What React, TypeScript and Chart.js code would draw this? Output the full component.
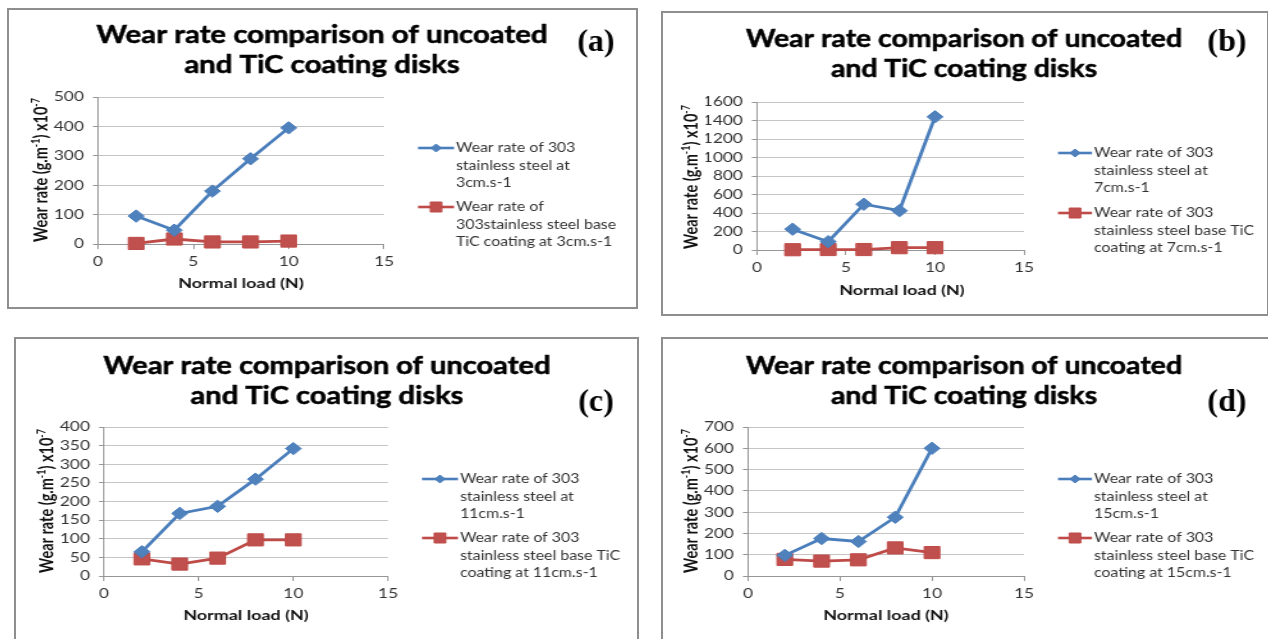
import React, { useEffect, useRef } from "react";
import { Chart, registerables } from "chart.js";

Chart.register(...registerables);

// ---------------- data ----------------
const normalLoad = [2, 4, 6, 8, 10];
const xMax = 15;
const xStep = 5;
const chartTitle = ["Wear rate comparison of uncoated", "and TiC coating disks"];
const xAxisTitle = "Normal load (N)";
// [text, isSuperscript]
const yAxisTitle: [string, boolean][] = [
  ["Wear rate (g.m", false],
  ["-1", true],
  [") x10", false],
  ["-7", true],
];

const panelLabels = ["(a)", "(b)", "(c)", "(d)"];
const yMaxima = [500, 1600, 400, 700];
const ySteps = [100, 200, 50, 100];

const uncoated3 = [95, 47, 180, 290, 395];
const coated3 = [2, 17, 7, 7, 10];
const uncoated7 = [225, 90, 495, 425, 1440];
const coated7 = [3, 5, 5, 25, 25];
const uncoated11 = [65, 168, 187, 260, 342];
const coated11 = [46, 32, 48, 97, 97];
const uncoated15 = [97, 176, 162, 276, 600];
const coated15 = [78, 70, 76, 132, 110];

const legendUncoated = [
  ["Wear rate of 303", "stainless steel at", "3cm.s-1"],
  ["Wear rate of 303", "stainless steel at", "7cm.s-1"],
  ["Wear rate of 303", "stainless steel at", "11cm.s-1"],
  ["Wear rate of 303", "stainless steel at", "15cm.s-1"],
];
const legendCoated = [
  ["Wear rate of", "303stainless steel base", "TiC coating at 3cm.s-1"],
  ["Wear rate of 303", "stainless steel base TiC", "coating at 7cm.s-1"],
  ["Wear rate of 303", "stainless steel base TiC", "coating at 11cm.s-1"],
  ["Wear rate of 303", "stainless steel base TiC", "coating at 15cm.s-1"],
];
const uncoatedSeries = [uncoated3, uncoated7, uncoated11, uncoated15];
const coatedSeries = [coated3, coated7, coated11, coated15];

// ---------------- layout (page pixels) ----------------
type Layout = {
  box: [number, number, number, number];
  area: [number, number, number, number];
  title: [number, number, number, number];
  label: [number, number];
  yTitle: [number, number];
  xTitle: [number, number];
  legend: [number, number, number, number];
};
const layouts: Layout[] = [
  { box: [7, 8, 631, 301], area: [98, 97, 384, 244], title: [322, 35, 65, 451], label: [596, 43], yTitle: [42, 170], xTitle: [241, 283], legend: [418, 456, 148, 207] },
  { box: [661, 11, 608, 305], area: [757, 102, 1024, 250], title: [964, 39, 69, 436], label: [1227, 43], yTitle: [692, 177], xTitle: [902, 290], legend: [1058, 1094, 153, 213] },
  { box: [14, 337, 625, 320], area: [104, 427, 388, 576], title: [327, 366, 396, 447], label: [596, 403], yTitle: [47, 501], xTitle: [246, 615], legend: [422, 460, 479, 538] },
  { box: [661, 337, 620, 320], area: [748, 427, 1024, 576], title: [964, 366, 396, 436], label: [1227, 403], yTitle: [692, 501], xTitle: [886, 615], legend: [1058, 1094, 479, 538] },
];

const SX = 1.28; // horizontal stretch of the original figure
const BORDER = 2;
const FONT = "Lato, 'Open Sans', sans-serif";
const BLUE_LINE = "#4A7EBB";
const BLUE_FILL = "#4F81BD";
const RED_LINE = "#BE4B48";
const RED_FILL = "#C0504D";
const GRID = "#C4C4C4";
const AXIS = "#969696";
const TEXT = "#333333";
const YW = 40;
const XH = 30;

function diamond(ctx: CanvasRenderingContext2D, x: number, y: number, r: number) {
  ctx.beginPath();
  ctx.moveTo(x - r, y);
  ctx.lineTo(x, y - r);
  ctx.lineTo(x + r, y);
  ctx.lineTo(x, y + r);
  ctx.closePath();
}

function PanelChart({ idx }: { idx: number }) {
  const ref = useRef<HTMLCanvasElement>(null);
  const L = layouts[idx];
  const [bl, bt, bw, bh] = L.box;
  const ox = bl + BORDER;
  const oy = bt + BORDER;
  const cw = bw - 2 * BORDER;
  const ch = bh - 2 * BORDER;
  const iw = Math.round(cw / SX);

  useEffect(() => {
    const X = (px: number) => (px - ox) / SX;
    const Y = (py: number) => py - oy;
    const [al, at, ar, ab] = L.area;

    const overlay = {
      id: "overlay" + idx,
      afterDraw(chart: any) {
        const ctx: CanvasRenderingContext2D = chart.ctx;
        // title
        ctx.save();
        ctx.fillStyle = "#000";
        ctx.strokeStyle = "#000";
        ctx.lineWidth = 0.5;
        ctx.font = `bold 24px ${FONT}`;
        ctx.textAlign = "center";
        ctx.textBaseline = "middle";
        const w1 = ctx.measureText(chartTitle[0]).width;
        const k = L.title[3] / SX / w1;
        ctx.translate(X(L.title[0]), 0);
        ctx.scale(k, 1);
        ctx.fillText(chartTitle[0], 0, Y(L.title[1]));
        ctx.strokeText(chartTitle[0], 0, Y(L.title[1]));
        ctx.fillText(chartTitle[1], 0, Y(L.title[2]));
        ctx.strokeText(chartTitle[1], 0, Y(L.title[2]));
        ctx.restore();

        // panel label
        ctx.save();
        ctx.translate(X(L.label[0]), Y(L.label[1]));
        ctx.scale(1 / SX, 1);
        ctx.fillStyle = "#000";
        ctx.font = "bold 32px 'Liberation Serif', serif";
        ctx.textAlign = "center";
        ctx.textBaseline = "middle";
        ctx.fillText(panelLabels[idx], 0, 0);
        ctx.restore();

        // y axis title
        ctx.save();
        ctx.translate(X(L.yTitle[0]), Y(L.yTitle[1]));
        ctx.rotate(-Math.PI / 2);
        ctx.fillStyle = "#111";
        ctx.textBaseline = "middle";
        ctx.textAlign = "left";
        const big = `bold 14.5px ${FONT}`;
        const small = `bold 9px ${FONT}`;
        let total = 0;
        const widths = yAxisTitle.map(([t, sup]) => {
          ctx.font = sup ? small : big;
          const w = ctx.measureText(t).width;
          total += w;
          return w;
        });
        let xx = -total / 2;
        yAxisTitle.forEach(([t, sup], i) => {
          ctx.font = sup ? small : big;
          ctx.fillText(t, xx, sup ? -4.5 : 0);
          xx += widths[i];
        });
        ctx.restore();

        // x axis title
        ctx.save();
        ctx.fillStyle = "#111";
        ctx.font = `bold 14px ${FONT}`;
        ctx.textAlign = "center";
        ctx.textBaseline = "middle";
        ctx.fillText(xAxisTitle, X(L.xTitle[0]), Y(L.xTitle[1]));
        ctx.restore();

        // legend
        const [lx, tx, ly1, ly2] = L.legend;
        const entries = [
          { y: ly1, lines: legendUncoated[idx], line: BLUE_LINE, fill: BLUE_FILL, kind: "d" },
          { y: ly2, lines: legendCoated[idx], line: RED_LINE, fill: RED_FILL, kind: "s" },
        ];
        entries.forEach((e) => {
          ctx.save();
          const x1 = X(lx);
          const x2 = X(tx - 2);
          const yy = Y(e.y);
          ctx.strokeStyle = e.line;
          ctx.lineWidth = 2.6;
          ctx.beginPath();
          ctx.moveTo(x1, yy);
          ctx.lineTo(x2, yy);
          ctx.stroke();
          const mx = (x1 + x2) / 2;
          ctx.fillStyle = e.fill;
          ctx.strokeStyle = e.line;
          ctx.lineWidth = 1;
          if (e.kind === "d") {
            diamond(ctx, mx, yy, 4);
          } else {
            ctx.beginPath();
            ctx.rect(mx - 4.5, yy - 5, 9, 10);
          }
          ctx.fill();
          ctx.stroke();
          ctx.fillStyle = TEXT;
          ctx.font = `13.5px ${FONT}`;
          ctx.textAlign = "left";
          ctx.textBaseline = "middle";
          ctx.translate(X(tx), 0);
          ctx.scale(0.92, 1);
          e.lines.forEach((t, i) => ctx.fillText(t, 0, yy + i * 17.5));
          ctx.restore();
        });
      },
    };

    const tickFont = { family: FONT, size: 13.5 };
    const chart = new Chart(ref.current as HTMLCanvasElement, {
      type: "line",
      data: {
        datasets: [
          {
            label: legendUncoated[idx].join(" "),
            data: normalLoad.map((x, i) => ({ x, y: uncoatedSeries[idx][i] })),
            borderColor: BLUE_LINE,
            backgroundColor: BLUE_FILL,
            borderWidth: 2.8,
            pointStyle: "rectRot",
            pointRadius: 6.2,
            pointBorderWidth: 1,
            pointBorderColor: BLUE_LINE,
            pointBackgroundColor: BLUE_FILL,
            tension: 0,
            clip: false,
          },
          {
            label: legendCoated[idx].join(" "),
            data: normalLoad.map((x, i) => ({ x, y: coatedSeries[idx][i] })),
            borderColor: RED_LINE,
            backgroundColor: RED_FILL,
            borderWidth: 2.8,
            pointStyle: "rect",
            pointRadius: 8.6,
            pointBorderWidth: 1,
            pointBorderColor: RED_LINE,
            pointBackgroundColor: RED_FILL,
            tension: 0,
            clip: false,
          },
        ] as any,
      },
      options: {
        responsive: false,
        maintainAspectRatio: false,
        animation: false,
        events: [],
        layout: {
          padding: {
            left: X(al) - YW,
            top: Y(at),
            right: iw - X(ar),
            bottom: ch - Y(ab) - XH,
          },
        },
        plugins: {
          legend: { display: false },
          title: { display: false },
          tooltip: { enabled: false },
        },
        scales: {
          x: {
            type: "linear",
            min: 0,
            max: xMax,
            ticks: { stepSize: xStep, color: TEXT, font: tickFont, padding: 5, callback: (v: any) => String(v) },
            grid: { drawOnChartArea: false, drawTicks: true, tickLength: 5, tickColor: AXIS, color: AXIS },
            border: { display: true, color: AXIS, width: 1 },
            afterFit: (s: any) => {
              s.height = XH;
            },
          },
          y: {
            type: "linear",
            min: 0,
            max: yMaxima[idx],
            ticks: { stepSize: ySteps[idx], autoSkip: false, color: TEXT, font: tickFont, padding: 7, callback: (v: any) => String(v) },
            grid: { color: GRID, lineWidth: 1, drawTicks: true, tickLength: 4, tickColor: AXIS },
            border: { display: true, color: AXIS, width: 1 },
            afterFit: (s: any) => {
              s.width = YW;
            },
          },
        },
      } as any,
      plugins: [overlay as any],
    });
    return () => chart.destroy();
  }, []);

  return (
    <div
      style={{
        position: "absolute",
        left: bl,
        top: bt,
        width: bw,
        height: bh,
        border: `${BORDER}px solid #8e8e8e`,
        boxSizing: "border-box",
        background: "#fff",
        overflow: "hidden",
      }}
    >
      <div style={{ transform: `scaleX(${SX})`, transformOrigin: "0 0", width: iw, height: ch }}>
        <canvas ref={ref} width={iw} height={ch} style={{ display: "block", width: iw, height: ch }} />
      </div>
    </div>
  );
}

export default function App() {
  return (
    <div
      style={{
        position: "absolute",
        left: 0,
        top: 0,
        width: 1268,
        height: 639,
        overflow: "hidden",
        background: "#fff",
      }}
    >
      {layouts.map((_, i) => (
        <PanelChart key={i} idx={i} />
      ))}
    </div>
  );
}
